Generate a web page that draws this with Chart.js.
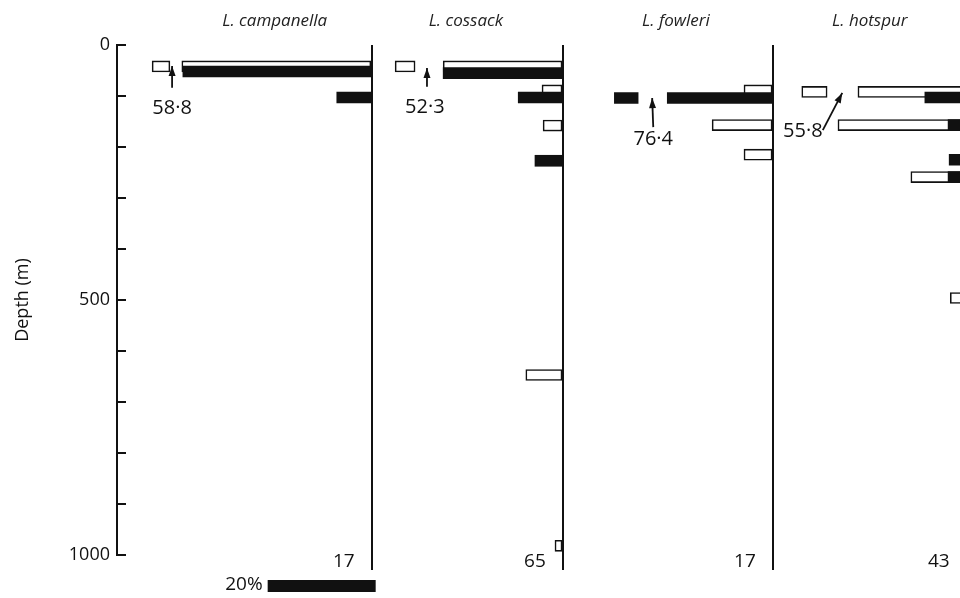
<!DOCTYPE html>
<html>
<head>
<meta charset="utf-8">
<script src="https://cdn.jsdelivr.net/npm/chart.js@4.4.0/dist/chart.umd.min.js"></script>
<style>
  html, body { margin: 0; padding: 0; background: #fff; overflow: hidden; }
  .wrap { width: 960px; height: 598px; overflow: hidden; }
</style>
</head>
<body>
<div class="wrap"><canvas id="depthChart" width="1000" height="598"></canvas></div>
<script>
const species = ["L. campanella", "L. cossack", "L. fowleri", "L. hotspur"];
const sampleCounts = [17, 65, 17, 43];

// black bars: depth (m) and % of catch
const blackDepths = [[52, 103], [55, 103, 227], [104], [103, 157, 225, 259]];
const blackValues = [[35.0, 6.5], [22.2, 8.3, 5.2], [76.4], [7.8, 3.5, 3.3, 3.5]];

// open bars
const openDepths = [[42], [42, 89, 158, 647, 982], [89, 157, 215], [92, 157, 259, 496]];
const openValues = [[58.8], [52.3, 3.9, 3.7, 6.9, 1.5], [5.4, 11.3, 5.4], [55.8, 23.9, 10.4, 3.1]];

const depthTicks = [0, 100, 200, 300, 400, 500, 600, 700, 800, 900, 1000];
const depthLabels = [0, 500, 1000];
const scaleBarPct = 20;

// layout (not data)
const panelSpan = [47.2, 35.4, 38.9, 35.9];      // % shown across each panel
const breakAt = [[35.2, 37.4, 40.7], [22.2, 27.4, 31.1], [19.6, 25.0, 29.4], [20.2, 25.9, 30.6]];
const breakNotes = [
  { tip: [37.0, 41], tail: [37.0, 84], text: [37.0, 124] },
  { tip: [25.2, 45], tail: [25.2, 82], text: [25.6, 122] },
  { tip: [22.4, 104], tail: [22.2, 161], text: [22.2, 184] },
  { tip: [23.1, 94], tail: [26.7, 167], text: [30.4, 169] }
];

const INK = "#111";
const FONT = "'Open Sans', 'DejaVu Sans', sans-serif";

function barsFor(depths, values, i) {
  const out = [];
  depths.forEach((d, k) => {
    const v = values[k];
    if (v > panelSpan[i]) {
      // broken bar: main piece + stub beyond the gap
      out.push({ y: d, x: [0, breakAt[i][0]] });
      out.push({ y: d, x: [breakAt[i][1], breakAt[i][2]] });
    } else {
      out.push({ y: d, x: v });
    }
  });
  return out;
}

function brokenValue(i) {
  const all = blackValues[i].concat(openValues[i]);
  return all.find(v => v > panelSpan[i]);
}

const datasets = [];
species.forEach((name, i) => {
  datasets.push({
    label: name + " black",
    data: barsFor(blackDepths[i], blackValues[i], i),
    xAxisID: "x" + i,
    backgroundColor: INK,
    borderColor: INK,
    borderWidth: 0,
    barThickness: 11,
    grouped: false
  });
});
species.forEach((name, i) => {
  datasets.push({
    label: name + " open",
    data: barsFor(openDepths[i], openValues[i], i),
    xAxisID: "x" + i,
    backgroundColor: "#fff",
    borderColor: INK,
    borderWidth: 1.6,
    borderSkipped: false,
    barThickness: 11,
    grouped: false
  });
});

const scales = {
  y: {
    type: "linear",
    min: 0,
    max: 1000,
    reverse: true,
    offset: false,
    afterBuildTicks: s => { s.ticks = depthTicks.map(v => ({ value: v })); },
    afterFit: s => { s.width = 117; },
    ticks: {
      autoSkip: false,
      padding: 7,
      color: INK,
      font: { family: FONT, size: 18 },
      callback: v => depthLabels.includes(v) ? String(v) : ""
    },
    grid: { drawOnChartArea: false, drawTicks: false, offset: false },
    border: { display: true, color: INK, width: 2 },
    title: {
      display: true,
      text: "Depth (m)",
      color: INK,
      font: { family: FONT, size: 18 },
      padding: { top: 12, bottom: 0 }
    }
  }
};
species.forEach((name, i) => {
  scales["x" + i] = {
    type: "linear",
    position: "bottom",
    stack: "panels",
    stackWeight: panelSpan[i],
    min: 0,
    max: panelSpan[i],
    reverse: true,
    afterFit: s => { s.height = 43; },
    ticks: { display: false },
    grid: {
      color: c => (c.tick && c.tick.value === 0) ? INK : "rgba(0,0,0,0)",
      lineWidth: 2,
      drawTicks: true,
      tickLength: 15
    },
    border: { display: false }
  };
});

const panelText = {
  id: "panelText",
  afterDatasetsDraw(chart) {
    const ctx = chart.ctx;
    const area = chart.chartArea;
    const y = chart.scales.y;
    ctx.save();

    // depth ticks point inward
    ctx.strokeStyle = INK;
    ctx.lineWidth = 2;
    depthTicks.forEach(v => {
      const py = Math.round(y.getPixelForValue(v));
      ctx.beginPath();
      ctx.moveTo(area.left, py);
      ctx.lineTo(area.left + 9, py);
      ctx.stroke();
    });

    ctx.fillStyle = INK;
    species.forEach((name, i) => {
      const xs = chart.scales["x" + i];

      ctx.font = "italic 17px " + FONT;
      ctx.fillStyle = "#222";
      ctx.textAlign = "center";
      ctx.textBaseline = "middle";
      ctx.fillText(name, xs.getPixelForValue(18), 21);

      ctx.fillStyle = INK;
      ctx.font = "19px " + FONT;
      ctx.textAlign = "right";
      ctx.fillText(String(sampleCounts[i]), xs.getPixelForValue(3.2), area.bottom + 7);

      // note for the broken bar
      const n = breakNotes[i];
      const v = brokenValue(i);
      if (v !== undefined) {
        const tx = xs.getPixelForValue(n.tip[0]), ty = y.getPixelForValue(n.tip[1]);
        const bx = xs.getPixelForValue(n.tail[0]), by = y.getPixelForValue(n.tail[1]);
        ctx.lineWidth = 1.8;
        ctx.beginPath();
        ctx.moveTo(bx, by);
        ctx.lineTo(tx, ty);
        ctx.stroke();
        const ang = Math.atan2(ty - by, tx - bx);
        ctx.beginPath();
        ctx.moveTo(tx, ty);
        ctx.lineTo(tx - 10 * Math.cos(ang) + 3.5 * Math.sin(ang), ty - 10 * Math.sin(ang) - 3.5 * Math.cos(ang));
        ctx.lineTo(tx - 10 * Math.cos(ang) - 3.5 * Math.sin(ang), ty - 10 * Math.sin(ang) + 3.5 * Math.cos(ang));
        ctx.closePath();
        ctx.fill();
        ctx.font = "20px " + FONT;
        ctx.textAlign = "center";
        ctx.fillText(v.toFixed(1).replace(".", "\u00b7"), xs.getPixelForValue(n.text[0]), y.getPixelForValue(n.text[1]));
      }
    });

    // 20% scale bar under the first panel
    const x0 = chart.scales.x0;
    const left = x0.getPixelForValue(scaleBarPct - 0.7);
    const right = x0.getPixelForValue(-0.7);
    ctx.fillRect(left, area.bottom + 25, right - left, 12);
    ctx.font = "19px " + FONT;
    ctx.textAlign = "right";
    ctx.fillText(scaleBarPct + "%", left - 5, area.bottom + 30);

    ctx.restore();
  }
};

new Chart(document.getElementById("depthChart"), {
  type: "bar",
  data: { datasets: datasets },
  options: {
    indexAxis: "y",
    responsive: false,
    animation: false,
    layout: { padding: { top: 45, right: 33, bottom: 0, left: 0 } },
    scales: scales,
    plugins: {
      legend: { display: false },
      tooltip: { enabled: false }
    }
  },
  plugins: [panelText]
});
</script>
</body>
</html>
